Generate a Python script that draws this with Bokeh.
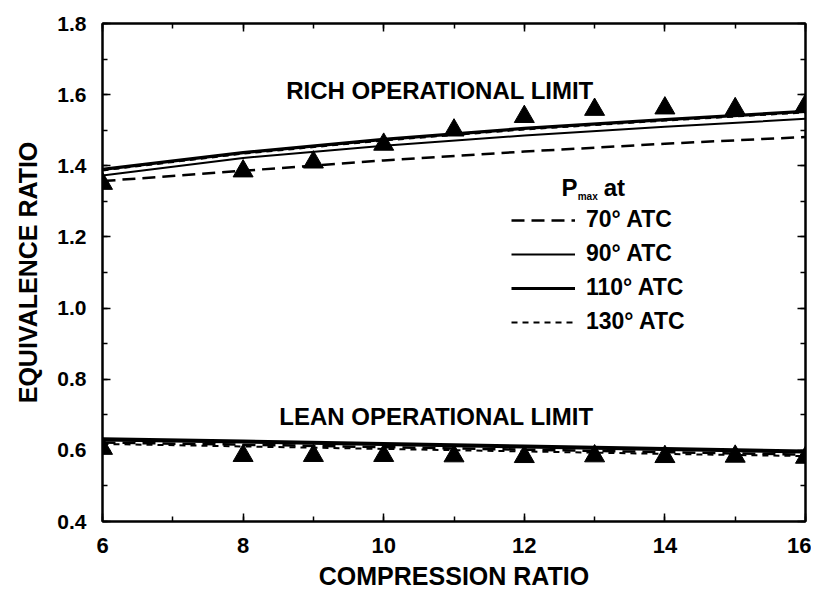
from bokeh.plotting import figure
from bokeh.models import (Range1d, LinearAxis, FixedTicker, Label, Legend, LegendItem,
                          CustomJSTickFormatter)
from bokeh.embed import file_html
from bokeh.resources import INLINE

# ---- data ----
x_line = [6, 8, 10, 12, 14, 16]
rich_70 = [1.357, 1.386, 1.415, 1.440, 1.462, 1.481]
rich_90 = [1.373, 1.422, 1.456, 1.485, 1.510, 1.532]
rich_110 = [1.390, 1.437, 1.474, 1.505, 1.530, 1.553]
rich_130 = [1.387, 1.434, 1.471, 1.502, 1.527, 1.550]
lean_70 = [0.622, 0.616, 0.609, 0.602, 0.595, 0.588]
lean_90 = [0.628, 0.622, 0.615, 0.608, 0.601, 0.594]
lean_110 = [0.632, 0.626, 0.619, 0.612, 0.605, 0.598]
lean_130 = [0.618, 0.611, 0.604, 0.597, 0.590, 0.584]

x_pts = [6, 8, 9, 10, 11, 12, 13, 14, 15, 16]
rich_pts = [1.350, 1.385, 1.410, 1.460, 1.500, 1.538, 1.558, 1.562, 1.560, 1.570]
lean_pts = [0.605, 0.585, 0.585, 0.585, 0.584, 0.582, 0.584, 0.582, 0.583, 0.580]

x_ticks = [6, 8, 10, 12, 14, 16]
y_ticks = [0.4, 0.6, 0.8, 1.0, 1.2, 1.4, 1.6, 1.8]
series_labels = ["70° ATC", "90° ATC", "110° ATC", "130° ATC"]

FONT = "Liberation Sans"

p = figure(frame_width=703, frame_height=498, output_backend="svg",
           toolbar_location=None, x_range=Range1d(6, 16), y_range=Range1d(0.4, 1.8),
           min_border_left=102, min_border_top=23, min_border_right=6, min_border_bottom=60)
p.background_fill_color = "white"
p.border_fill_color = "white"
p.grid.visible = False
p.outline_line_color = "black"
p.outline_line_width = 2

def style_axis(ax, show_labels=True):
    ax.axis_line_width = 2
    ax.axis_line_color = "black"
    ax.major_tick_in = 8
    ax.major_tick_out = 0
    ax.minor_tick_in = 5
    ax.minor_tick_out = 0
    ax.major_tick_line_width = 1.5
    ax.minor_tick_line_width = 1.5
    ax.major_label_text_font = FONT
    ax.major_label_text_font_style = "bold"
    ax.major_label_text_color = "black"
    ax.axis_label_text_font = FONT
    ax.axis_label_text_font_style = "bold"
    ax.axis_label_text_color = "black"
    if not show_labels:
        ax.formatter = CustomJSTickFormatter(code="return ''")
        ax.major_label_standoff = 0

xt = FixedTicker(ticks=x_ticks, minor_ticks=list(range(6, 17)))
yt = FixedTicker(ticks=y_ticks, minor_ticks=[round(0.4 + 0.1 * i, 1) for i in range(15)])

xa = p.xaxis[0]
xa.ticker = xt
xa.axis_label = "COMPRESSION RATIO"
style_axis(xa)
xa.major_label_text_font_size = "22px"
xa.axis_label_text_font_size = "25px"
xa.major_label_standoff = 16
xa.axis_label_standoff = 6

ya = p.yaxis[0]
ya.ticker = yt
ya.axis_label = "EQUIVALENCE RATIO"
style_axis(ya)
ya.major_label_text_font_size = "21px"
ya.axis_label_text_font_size = "25px"
ya.major_label_standoff = 16
ya.axis_label_standoff = 12
ya.major_label_overrides = {1.0: "1.0"}

top = LinearAxis(ticker=xt)
style_axis(top, False)
p.add_layout(top, "above")
right = LinearAxis(ticker=yt)
style_axis(right, False)
p.add_layout(right, "right")

styles = {
    "70": dict(line_width=2.5, line_dash="13 7"),
    "90": dict(line_width=2),
    "110": dict(line_width=3.2),
    "130": dict(line_width=2, line_dash="6 5"),
}
rich = {"70": rich_70, "90": rich_90, "110": rich_110, "130": rich_130}
lean = {"70": lean_70, "90": lean_90, "110": lean_110, "130": lean_130}
renderers = {}
for k in ["130", "70", "90", "110"]:
    r1 = p.line(x_line, rich[k], line_color="black", **styles[k])
    p.line(x_line, lean[k], line_color="black", **styles[k])
    renderers[k] = r1

p.scatter(x_pts, rich_pts, marker="triangle", size=20, fill_color="black", line_color="black")
p.scatter(x_pts, lean_pts, marker="triangle", size=20, fill_color="black", line_color="black")

items = [LegendItem(label=lab, renderers=[renderers[k]])
         for lab, k in zip(series_labels, ["70", "90", "110", "130"])]
legend = Legend(items=items, location=(409, 186), glyph_width=64, glyph_height=26,
                label_height=26, spacing=7, padding=0, margin=0, label_standoff=11,
                border_line_color=None, background_fill_alpha=0,
                label_text_font=FONT, label_text_font_style="bold",
                label_text_font_size="23px", label_text_color="black")
p.add_layout(legend, "center")

def add_label(x, y, text, size, align="center", baseline="middle"):
    p.add_layout(Label(x=x, y=y, text=text, text_font=FONT, text_font_style="bold",
                       text_font_size=size, text_align=align, text_baseline=baseline,
                       text_color="black"))

add_label(10.8, 1.613, "RICH OPERATIONAL LIMIT", "24px")
add_label(10.75, 0.694, "LEAN OPERATIONAL LIMIT", "24px")
# P_max at
add_label(12.53, 1.338, "P", "24px", align="left")
add_label(12.76, 1.314, "max", "10px", align="left")
add_label(13.13, 1.338, "at", "24px", align="left")

open("out.html", "w").write(file_html(p, INLINE))
